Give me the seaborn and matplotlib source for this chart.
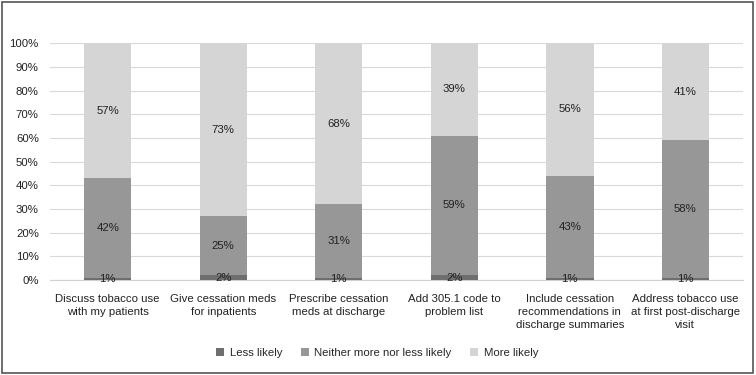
import numpy as np
import pandas as pd
import matplotlib
matplotlib.use("Agg")
import matplotlib.pyplot as plt
import seaborn as sns
from matplotlib.patches import Rectangle, Patch
from matplotlib.ticker import PercentFormatter

# Données
categories = [
    "Discuss tobacco use\nwith my patients",
    "Give cessation meds\nfor inpatients",
    "Prescribe cessation\nmeds at discharge",
    "Add 305.1 code to\nproblem list",
    "Include cessation\nrecommendations in\ndischarge summaries",
    "Address tobacco use\nat first post-discharge\nvisit",
]
less_likely = [1, 2, 1, 2, 1, 1]
neither = [42, 25, 31, 59, 43, 58]
more_likely = [57, 73, 68, 39, 56, 41]
series_names = ["Less likely", "Neither more nor less likely", "More likely"]
colors = ["#6e6e6e", "#979797", "#d5d5d5"]

sns.set_style("white")
plt.rcParams["font.family"] = ["Liberation Sans", "DejaVu Sans"]
plt.rcParams["font.size"] = 8.2

df = pd.DataFrame({"cat": categories, "less": less_likely,
                   "neither": neither, "more": more_likely})
df["c1"] = df["less"]
df["c2"] = df["less"] + df["neither"]
df["c3"] = df["c2"] + df["more"]

fig = plt.figure(figsize=(7.56, 3.75), dpi=100)
ax = fig.add_axes([0.066, 0.253, 0.917, 0.632])

# Empilement : on dessine les cumuls du haut vers le bas
for col, c in zip(["c3", "c2", "c1"], colors[::-1]):
    sns.barplot(data=df, x="cat", y=col, color=c, width=0.41,
                saturation=1, ax=ax, zorder=3, linewidth=0, edgecolor="none")

# Étiquettes au centre de chaque segment
for i, row in df.iterrows():
    bottoms = [0, row["c1"], row["c2"]]
    for b, v in zip(bottoms, [row["less"], row["neither"], row["more"]]):
        ax.text(i, b + v / 2, f"{v}%", ha="center", va="center",
                fontsize=8.2, color="#222222", zorder=5)

ax.set_ylim(0, 100)
ax.set_xlim(-0.5, len(categories) - 0.5)
ax.yaxis.set_major_locator(plt.MultipleLocator(10))
ax.yaxis.set_major_formatter(PercentFormatter(decimals=0))
ax.grid(axis="y", color="#d9d9d9", linewidth=0.8, zorder=0)
ax.set_axisbelow(True)
ax.set_xlabel("")
ax.set_ylabel("")
for s in ["top", "right", "left"]:
    ax.spines[s].set_visible(False)
ax.spines["bottom"].set_color("#d0d0d0")
ax.tick_params(axis="y", length=5, color="#d9d9d9", width=0.8, pad=3,
               labelcolor="#222222")
ax.tick_params(axis="x", length=0, pad=10, labelcolor="#222222")
for lbl in ax.get_xticklabels():
    lbl.set_linespacing(1.35)
ax.set_xticks(np.arange(-0.5, len(categories)), minor=True)
ax.tick_params(axis="x", which="minor", length=4, color="#d0d0d0")

handles = [Patch(facecolor=c, edgecolor="none") for c in colors]
fig.legend(handles, series_names, loc="center", ncol=3, frameon=False,
           bbox_to_anchor=(0.499, 0.058), handlelength=0.7, handleheight=0.7,
           columnspacing=1.6, handletextpad=0.5, fontsize=8.2)

fig.patches.append(Rectangle((0.003, 0.006), 0.993, 0.988, transform=fig.transFigure,
                             fill=False, edgecolor="#555555", linewidth=1.2))

fig.savefig("out.png", dpi=100)
